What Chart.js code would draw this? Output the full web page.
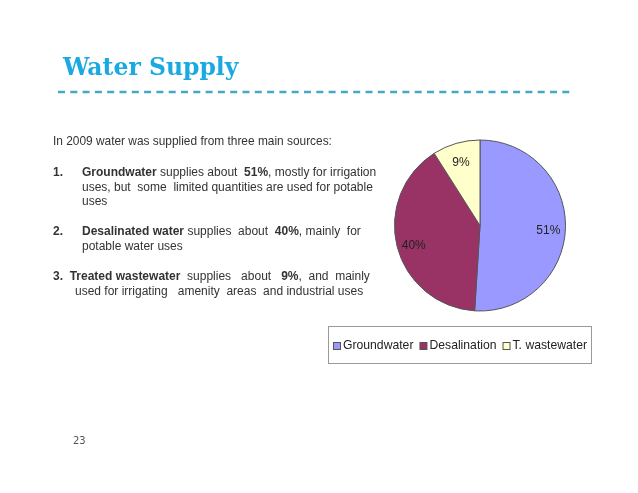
<!DOCTYPE html>
<html>
<head>
<meta charset="utf-8">
<script src="https://cdn.jsdelivr.net/npm/chart.js@4"></script>
<style>
  html, body { margin: 0; padding: 0; background: #fff; }
  #slide { position: relative; width: 638px; height: 493px; overflow: hidden; }
  #chart { position: absolute; left: 0; top: 0; }
  .t { position: absolute; white-space: pre; font-family: "Liberation Sans", Arial, sans-serif; color: #333; }
  .title { font-family: "DejaVu Serif", serif; font-weight: bold; font-size: 23.5px; color: #1ba9e1; left: 63px; top: 53px; }
  .body { font-size: 11.9px; }
  .num { font-size: 12px; }
  .page { font-family: "DejaVu Sans", sans-serif; font-size: 10px; color: #555; left: 73px; top: 435px; }
</style>
</head>
<body>
<div id="slide">
  <canvas id="chart" width="638" height="493"></canvas>
  <div class="t title">Water Supply</div>
  <div class="t body" style="left:53px;top:134px">In 2009 water was supplied from three main sources:</div>
  <div class="t num" style="left:53px;top:165px"><b>1.</b></div>
  <div class="t num" style="left:82px;top:165px"><b>Groundwater</b> supplies about  <b>51%</b>, mostly for irrigation</div>
  <div class="t num" style="left:82px;top:180px">uses, but  some  limited quantities are used for potable</div>
  <div class="t num" style="left:82px;top:194px">uses</div>
  <div class="t num" style="left:53px;top:224px"><b>2.</b></div>
  <div class="t num" style="left:82px;top:224px"><b>Desalinated water</b> supplies  about  <b>40%</b>, mainly  for</div>
  <div class="t num" style="left:82px;top:239px">potable water uses</div>
  <div class="t num" style="left:53px;top:269px"><b>3.  Treated wastewater</b>  supplies   about   <b>9%</b>,  and  mainly</div>
  <div class="t num" style="left:75px;top:284px">used for irrigating   amenity  areas  and industrial uses</div>
  <div class="t page">23</div>
</div>
<script>
// Datos del gráfico
const sources = ['Groundwater', 'Desalination', 'T. wastewater'];
const shares = [51, 40, 9];
const sliceColors = ['#9999ff', '#993366', '#ffffcc'];

// Línea discontinua bajo el título, etiquetas y leyenda
const slideDecor = {
    id: 'slideDecor',
    beforeDraw(chart) {
        const ctx = chart.ctx;
        ctx.save();
        ctx.strokeStyle = '#46a9c4';
        ctx.lineWidth = 2.5;
        ctx.setLineDash([7, 5.3]);
        ctx.beginPath();
        ctx.moveTo(58, 92);
        ctx.lineTo(573, 92);
        ctx.stroke();
        ctx.restore();
    },
    afterDraw(chart) {
        const ctx = chart.ctx;
        const meta = chart.getDatasetMeta(0);
        ctx.save();
        // porcentajes dentro de las porciones
        ctx.font = '12px "Liberation Sans", Arial, sans-serif';
        ctx.fillStyle = '#222';
        ctx.textAlign = 'center';
        ctx.textBaseline = 'middle';
        meta.data.forEach((arc, i) => {
            const mid = (arc.startAngle + arc.endAngle) / 2;
            const r = arc.outerRadius * 0.8;
            ctx.fillText(shares[i] + '%', arc.x + Math.cos(mid) * r, arc.y + Math.sin(mid) * r + 3);
        });
        // cuadro de leyenda
        ctx.fillStyle = '#fff';
        ctx.fillRect(328.5, 326.5, 263, 37);
        ctx.strokeStyle = '#999';
        ctx.lineWidth = 1;
        ctx.strokeRect(328.5, 326.5, 263, 37);
        ctx.font = '12.2px "Liberation Sans", Arial, sans-serif';
        ctx.textAlign = 'left';
        let x = 333;
        const y = 346;
        sources.forEach((name, i) => {
            ctx.fillStyle = sliceColors[i];
            ctx.fillRect(x + 0.5, y - 3.5, 7, 7);
            ctx.strokeStyle = '#555';
            ctx.strokeRect(x + 0.5, y - 3.5, 7, 7);
            ctx.fillStyle = '#222';
            ctx.fillText(name, x + 10, y);
            x += 10 + ctx.measureText(name).width + 6;
        });
        ctx.restore();
    }
};

new Chart(document.getElementById('chart'), {
    type: 'pie',
    data: {
        labels: sources,
        datasets: [{
            data: shares,
            backgroundColor: sliceColors,
            borderColor: '#555',
            borderWidth: 1
        }]
    },
    options: {
        responsive: false,
        animation: false,
        layout: {
            padding: { left: 394, right: 72, top: 139, bottom: 181 }
        },
        plugins: {
            legend: { display: false },
            tooltip: { enabled: false }
        }
    },
    plugins: [slideDecor]
});
</script>
</body>
</html>
